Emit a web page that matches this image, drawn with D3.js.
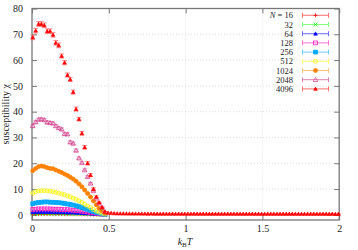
<!DOCTYPE html>
<html>
<head>
<meta charset="utf-8">
<script src="https://cdn.jsdelivr.net/npm/d3@7"></script>
<style>
  body { margin: 0; background: #fff; }
  text { font-family: "Liberation Serif", "DejaVu Serif", serif; font-size: 10px; fill: #222; }
</style>
</head>
<body>
<div id="chart"></div>
<script>
// temperatures (low-T region, shared by all system sizes)
const temps = [0.005, 0.024, 0.043, 0.061, 0.080, 0.099, 0.118, 0.137, 0.155, 0.174, 0.193, 0.212, 0.231,
  0.249, 0.268, 0.287, 0.306, 0.325, 0.343, 0.362, 0.381, 0.400, 0.419, 0.437, 0.456, 0.475];

// high-T tail (only the largest system is visible there)
const tailTemps = [0.495, 0.515, 0.535, 0.555, 0.575, 0.595, 0.615, 0.635, 0.655, 0.675, 0.695, 0.715, 0.735,
  0.755, 0.775, 0.795, 0.815, 0.835, 0.855, 0.875, 0.895, 0.915, 0.935, 0.955, 0.975, 0.995, 1.015, 1.035,
  1.055, 1.075, 1.095, 1.115, 1.135, 1.155, 1.175, 1.195, 1.215, 1.235, 1.255, 1.275, 1.295, 1.315, 1.335,
  1.355, 1.375, 1.395, 1.415, 1.435, 1.455, 1.475, 1.495, 1.515, 1.535, 1.555, 1.575, 1.595, 1.615, 1.635,
  1.655, 1.675, 1.695, 1.715, 1.735, 1.755, 1.775, 1.795, 1.815, 1.835, 1.855, 1.875, 1.895, 1.915, 1.935,
  1.955, 1.975, 1.995];
const tail4096 = [0.8, 0.66, 0.58, 0.54, 0.51, 0.5, 0.48, 0.47, 0.47, 0.46, 0.46, 0.45, 0.45, 0.44, 0.45, 0.44,
  0.44, 0.43, 0.44, 0.43, 0.43, 0.43, 0.42, 0.43, 0.42, 0.42, 0.42, 0.41, 0.42, 0.41, 0.41, 0.41, 0.41, 0.4,
  0.41, 0.4, 0.4, 0.4, 0.4, 0.4, 0.39, 0.4, 0.39, 0.39, 0.39, 0.39, 0.39, 0.38, 0.39, 0.38, 0.38, 0.38, 0.38,
  0.38, 0.38, 0.37, 0.38, 0.37, 0.37, 0.37, 0.37, 0.37, 0.37, 0.36, 0.37, 0.36, 0.36, 0.36, 0.36, 0.36, 0.36,
  0.36, 0.35, 0.36, 0.35, 0.35];

const sizes = ["16", "32", "64", "128", "256", "512", "1024", "2048", "4096"];

const chi16 = [0.27, 0.28, 0.28, 0.28, 0.28, 0.28, 0.28, 0.27, 0.27, 0.27, 0.26, 0.26, 0.25, 0.25, 0.24, 0.23,
  0.22, 0.21, 0.2, 0.18, 0.17, 0.15, 0.13, 0.11, 0.09, 0.07];
const chi32 = [0.55, 0.56, 0.56, 0.56, 0.56, 0.56, 0.55, 0.55, 0.54, 0.54, 0.53, 0.52, 0.51, 0.49, 0.47, 0.45,
  0.43, 0.4, 0.37, 0.34, 0.3, 0.26, 0.22, 0.18, 0.14, 0.1];
const chi64 = [1.0, 1.1, 1.1, 1.1, 1.1, 1.1, 1.1, 1.1, 1.0, 1.0, 1.0, 1.0, 0.9, 0.9, 0.9, 0.8, 0.8, 0.7, 0.6,
  0.6, 0.5, 0.4, 0.3, 0.3, 0.2, 0.1];
const chi128 = [2.1, 2.2, 2.3, 2.3, 2.3, 2.3, 2.3, 2.2, 2.2, 2.2, 2.1, 2.0, 2.0, 1.9, 1.8, 1.7, 1.6, 1.4, 1.3,
  1.1, 0.9, 0.8, 0.6, 0.4, 0.3, 0.2];
const chi256 = [4.3, 4.6, 4.8, 4.9, 5.0, 5.0, 4.9, 4.9, 4.8, 4.7, 4.6, 4.4, 4.2, 4.0, 3.8, 3.5, 3.2, 2.8, 2.5,
  2.1, 1.7, 1.3, 1.0, 0.7, 0.4, 0.2];
const chi512 = [8.4, 9.0, 9.3, 9.4, 9.4, 9.3, 9.2, 9.0, 8.7, 8.4, 8.1, 7.8, 7.4, 7.0, 6.5, 6.0, 5.4, 4.8, 4.1,
  3.4, 2.8, 2.1, 1.5, 1.0, 0.6, 0.3];
const chi1024 = [17.1, 18.0, 18.7, 18.9, 18.7, 18.3, 18.0, 17.9, 17.4, 16.9, 16.4, 15.8, 15.3, 14.6, 13.9, 13.0,
  12.0, 10.9, 9.6, 8.3, 6.9, 5.4, 3.9, 2.6, 1.5, 0.7];
const chi2048 = [34.5, 36.0, 37.0, 37.1, 36.8, 35.9, 35.7, 35.5, 34.5, 33.7, 33.2, 31.4, 31.3, 28.2, 27.7, 25.0,
  22.0, 20.2, 17.4, 14.8, 12.2, 9.3, 6.4, 4.5, 2.9, 1.2];
const chi4096 = [68.8, 71.4, 74.0, 74.0, 73.5, 71.2, 71.2, 69.8, 66.7, 65.7, 61.6, 59.0, 54.2, 52.5, 47.6, 41.0,
  37.1, 31.6, 26.2, 20.0, 15.4, 10.0, 7.0, 4.8, 2.9, 1.2];

const err2048 = [0.5, 0.5, 0.5, 0.5, 0.5, 0.5, 0.5, 0.5, 0.5, 0.5, 0.5, 0.5, 0.5, 0.5, 0.5, 0.5, 0.4, 0.4, 0.4,
  0.4, 0.3, 0.3, 0.3, 0.2, 0.2, 0.1];
const err4096 = [0.9, 0.9, 0.9, 0.9, 0.9, 0.9, 0.9, 0.9, 0.9, 0.9, 0.8, 0.8, 0.8, 0.8, 0.8, 0.8, 0.7, 0.7, 0.7,
  0.6, 0.6, 0.5, 0.4, 0.3, 0.2, 0.1];

const xTicks = [0, 0.5, 1, 1.5, 2];
const yTicks = [0, 10, 20, 30, 40, 50, 60, 70, 80];

const series = [
  { n: sizes[0], y: chi16, err: null, mark: "plus", fill: "#ff0000", bar: "#ff7070" },
  { n: sizes[1], y: chi32, err: null, mark: "cross", fill: "#00ee00", bar: "#80ff80" },
  { n: sizes[2], y: chi64, err: null, mark: "tri", fill: "#0000ff", bar: "#7070ff" },
  { n: sizes[3], y: chi128, err: null, mark: "osq", fill: "#ff20c0", bar: "#ff70d0" },
  { n: sizes[4], y: chi256, err: null, mark: "sq", fill: "#00a8ff", bar: "#70c8ff" },
  { n: sizes[5], y: chi512, err: null, mark: "ocirc", fill: "#f4f400", bar: "#ffff70" },
  { n: sizes[6], y: chi1024, err: null, mark: "circ", fill: "#ff8000", bar: "#ffc080" },
  { n: sizes[7], y: chi2048, err: err2048, mark: "otri", fill: "#d03a88", bar: "#e080b0" },
  { n: sizes[8], y: chi4096, err: err4096, mark: "tri", fill: "#ff0000", bar: "#ff7070" }
];

const width = 358, height = 250;
const x = d3.scaleLinear().domain([0, 2]).range([32, 339.2]);
const y = d3.scaleLinear().domain([-2, 80]).range([220, 8.5]);

const svg = d3.select("#chart").append("svg")
  .attr("width", width).attr("height", height);

// grid
svg.append("g").selectAll("line").data(xTicks.slice(1, -1)).enter().append("line")
  .attr("x1", d => x(d)).attr("x2", d => x(d)).attr("y1", y(80)).attr("y2", y(-2))
  .attr("stroke", "#c8c8c8").attr("stroke-width", 0.6).attr("stroke-dasharray", "1,2");
svg.append("g").selectAll("line").data(yTicks.slice(1, -1)).enter().append("line")
  .attr("x1", x(0)).attr("x2", x(2)).attr("y1", d => y(d)).attr("y2", d => y(d))
  .attr("stroke", "#c8c8c8").attr("stroke-width", 0.6).attr("stroke-dasharray", "1,2");

// axes with inward ticks, mirrored
const axisColor = "#777";
function styleAxis(g) {
  g.select(".domain").remove();
  g.selectAll(".tick line").attr("stroke", axisColor).attr("stroke-width", 1);
  g.selectAll(".tick text").style("font-size", "10px");
}
svg.append("g").attr("transform", `translate(0,${y(-2)})`)
  .call(d3.axisBottom(x).tickValues(xTicks).tickSize(-5).tickPadding(5).tickFormat(d3.format("")))
  .call(styleAxis);
svg.append("g").attr("transform", `translate(0,${y(80)})`)
  .call(d3.axisTop(x).tickValues(xTicks).tickSize(-5).tickFormat(""))
  .call(styleAxis);
svg.append("g").attr("transform", `translate(${x(0)},0)`)
  .call(d3.axisLeft(y).tickValues(yTicks).tickSize(-5).tickPadding(9))
  .call(styleAxis);
svg.append("g").attr("transform", `translate(${x(2)},0)`)
  .call(d3.axisRight(y).tickValues(yTicks).tickSize(-5).tickFormat(""))
  .call(styleAxis);

svg.append("rect")
  .attr("x", x(0)).attr("y", y(80)).attr("width", x(2) - x(0)).attr("height", y(-2) - y(80))
  .attr("fill", "none").attr("stroke", axisColor).attr("stroke-width", 1.3);

// axis labels
svg.append("text").attr("transform", `translate(9,${(y(80) + y(-2)) / 2}) rotate(-90)`)
  .attr("text-anchor", "middle").text("susceptibility χ");
const xl = svg.append("text").attr("x", 185).attr("y", 245).attr("text-anchor", "middle");
xl.append("tspan").style("font-style", "italic").text("k");
xl.append("tspan").attr("dy", 2).style("font-size", "7px").text("B");
xl.append("tspan").attr("dy", -2).style("font-style", "italic").text("T");

function drawMarker(g, type, cx, cy, s) {
  const r = 2;
  if (type === "plus") {
    g.append("path").attr("d", `M${cx - r},${cy}H${cx + r}M${cx},${cy - r}V${cy + r}`)
      .attr("stroke", s.fill).attr("stroke-width", 0.8);
  } else if (type === "cross") {
    g.append("path").attr("d", `M${cx - r},${cy - r}L${cx + r},${cy + r}M${cx - r},${cy + r}L${cx + r},${cy - r}`)
      .attr("stroke", s.fill).attr("stroke-width", 0.8);
  } else if (type === "tri" || type === "otri") {
    const rr = type === "tri" ? 1.8 : 2.3;
    g.append("path").attr("d", `M${cx},${cy - rr}L${cx + rr},${cy + rr * 0.8}L${cx - rr},${cy + rr * 0.8}Z`)
      .attr("fill", type === "tri" ? s.fill : "none").attr("stroke", s.fill).attr("stroke-width", 0.7);
  } else if (type === "sq" || type === "osq") {
    g.append("rect").attr("x", cx - 1.9).attr("y", cy - 1.9).attr("width", 3.8).attr("height", 3.8)
      .attr("fill", type === "sq" ? s.fill : "none").attr("stroke", s.fill).attr("stroke-width", 0.8);
  } else {
    g.append("circle").attr("cx", cx).attr("cy", cy).attr("r", 2)
      .attr("fill", type === "circ" ? s.fill : "none").attr("stroke", s.fill).attr("stroke-width", 0.8);
  }
}

function drawPoint(g, s, t, v, e) {
  const cx = x(t), cy = y(v);
  const y0 = y(v - e), y1 = y(v + e);
  g.append("path")
    .attr("d", `M${cx},${y0}V${y1}M${cx - 2.4},${y0}H${cx + 2.4}M${cx - 2.4},${y1}H${cx + 2.4}`)
    .attr("stroke", s.bar).attr("stroke-width", 0.8).attr("fill", "none");
  drawMarker(g, s.mark, cx, cy, s);
}

series.forEach(s => {
  const g = svg.append("g");
  s.y.forEach((v, i) => drawPoint(g, s, temps[i], v, s.err ? s.err[i] : 0.05));
  if (s.n === "4096") {
    tail4096.forEach((v, i) => drawPoint(g, s, tailTemps[i], v, 0.05));
  }
});

// legend
const lg = svg.append("g");
series.forEach((s, i) => {
  const ly = 15.3 + i * 9.2;
  const t = lg.append("text").attr("x", 293).attr("y", ly + 3).attr("text-anchor", "end")
    .style("font-size", "8.5px");
  if (i === 0) {
    t.append("tspan").style("font-style", "italic").text("N");
    t.append("tspan").text(" = " + s.n);
  } else {
    t.text(s.n);
  }
  lg.append("path")
    .attr("d", `M302.5,${ly}H328.5M302.5,${ly - 2.5}V${ly + 2.5}M328.5,${ly - 2.5}V${ly + 2.5}`)
    .attr("stroke", s.bar).attr("stroke-width", 1);
  drawMarker(lg, s.mark, 315.5, ly, s);
});
</script>
</body>
</html>
